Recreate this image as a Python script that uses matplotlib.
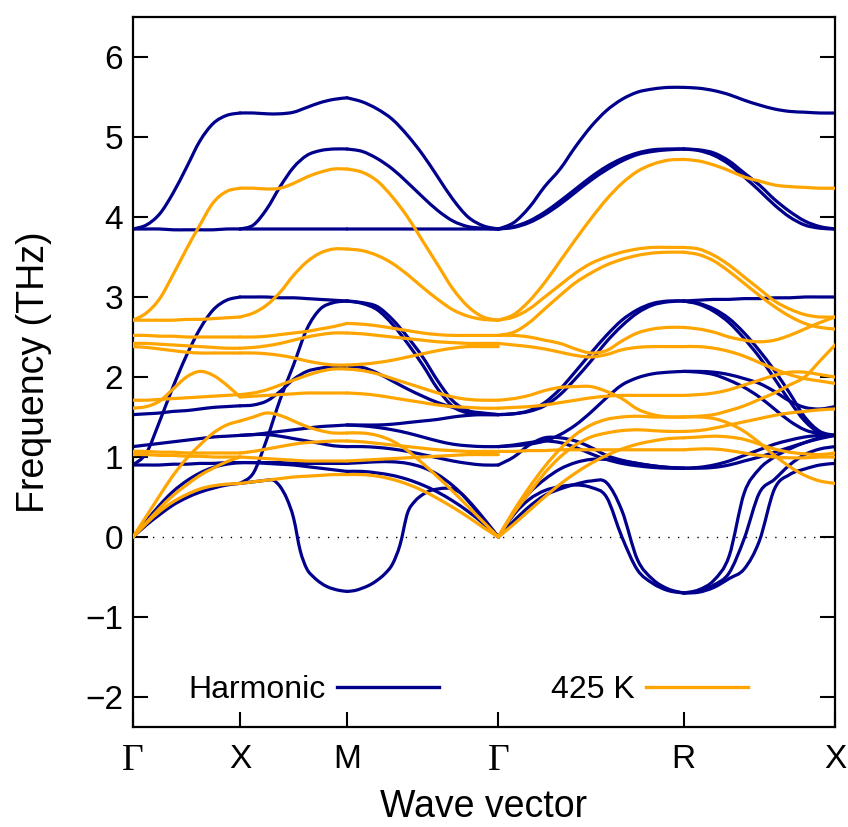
import numpy as np
import matplotlib
matplotlib.use("Agg")
import matplotlib.pyplot as plt
from matplotlib.lines import Line2D
from matplotlib.path import Path
from matplotlib.patches import PathPatch

# ---------------- data ----------------
# k-path nodes (path length) and labels; each band below is sampled at
# evenly spaced k-points across its segment
KNODES = [0.0, 1.0, 2.0, 3.414, 5.146, 6.560]
KLABELS = ["Γ", "X", "M", "Γ", "R", "X"]

HARM_GX = [
    [0, 0.15, 0.28, 0.40, 0.49, 0.56, 0.61, 0.65, 0.67],
    [0, 0.2, 0.4, 0.57, 0.7, 0.8, 0.87, 0.91, 0.93],
    [0.9, 0.9, 0.9, 0.91, 0.91, 0.92, 0.92, 0.93, 0.93],
    [0.9, 1.05, 1.45, 1.88, 2.27, 2.6, 2.84, 2.96, 3.0],
    [1.13, 1.15, 1.17, 1.19, 1.21, 1.23, 1.25, 1.26, 1.27],
    [1.53, 1.54, 1.55, 1.57, 1.58, 1.6, 1.62, 1.63, 1.64],
    [3.85, 3.85, 3.85, 3.84, 3.84, 3.84, 3.84, 3.85, 3.85],
    [3.85, 3.9, 4.04, 4.3, 4.62, 4.95, 5.17, 5.27, 5.3],
]
HARM_XM = [
    [0.67, 0.68, 0.69, 0.70, 0.71, 0.71, 0.63, 0.48, 0.24, -0.17, -0.40,
     -0.50, -0.57, -0.62, -0.65, -0.67, -0.68],
    [0.67, 0.8, 1.22, 1.72, 2.15, 2.6, 2.85, 2.93, 2.95],
    [3.0, 3.0, 3.0, 2.99, 2.99, 2.98, 2.97, 2.96, 2.95],
    [0.93, 0.93, 0.92, 0.91, 0.9, 0.88, 0.86, 0.84, 0.82],
    [0.93, 0.93, 0.93, 0.93, 0.92, 0.92, 0.92, 0.92, 0.92],
    [1.27, 1.28, 1.28, 1.26, 1.23, 1.2, 1.17, 1.14, 1.13],
    [1.27, 1.28, 1.3, 1.32, 1.34, 1.36, 1.38, 1.39, 1.4],
    [1.64, 1.65, 1.7, 1.82, 1.97, 2.07, 2.11, 2.13, 2.13],
    [3.85, 3.85, 3.85, 3.85, 3.85, 3.85, 3.85, 3.85, 3.85],
    [3.85, 3.9, 4.1, 4.38, 4.62, 4.77, 4.83, 4.85, 4.85],
    [5.3, 5.3, 5.29, 5.29, 5.31, 5.37, 5.43, 5.47, 5.49],
]
HARM_MG = [
    [-0.68, -0.67, -0.64, -0.6, -0.54, -0.46, -0.34, -0.1, 0.3, 0.45, 0.53,
     0.58, 0.6, 0.61, 0.6, 0.55, 0.45, 0.34, 0.22, 0.11, 0],
    [2.95, 2.93, 2.88, 2.72, 2.5, 2.25, 1.95, 1.7, 1.58, 1.55, 1.53],
    [2.95, 2.92, 2.84, 2.66, 2.42, 2.15, 1.85, 1.63, 1.55, 1.53, 1.53],
    [2.13, 2.12, 2.05, 1.95, 1.85, 1.76, 1.68, 1.62, 1.57, 1.54, 1.53],
    [1.4, 1.4, 1.4, 1.41, 1.43, 1.45, 1.47, 1.5, 1.52, 1.53, 1.53],
    [1.4, 1.39, 1.37, 1.34, 1.3, 1.25, 1.2, 1.16, 1.14, 1.13, 1.13],
    [1.13, 1.13, 1.12, 1.1, 1.07, 1.03, 0.99, 0.95, 0.92, 0.9, 0.9],
    [0.82, 0.82, 0.8, 0.77, 0.72, 0.65, 0.56, 0.45, 0.32, 0.17, 0],
    [0.92, 0.93, 0.94, 0.94, 0.92, 0.87, 0.78, 0.64, 0.46, 0.24, 0],
    [3.85, 3.85, 3.85, 3.85, 3.85, 3.85, 3.85, 3.85, 3.85, 3.85, 3.85],
    [4.85, 4.82, 4.73, 4.6, 4.43, 4.25, 4.08, 3.95, 3.88, 3.86, 3.85],
    [5.49, 5.44, 5.35, 5.22, 5.02, 4.78, 4.5, 4.22, 4.0, 3.89, 3.85],
]
HARM_GR = [
    [0, 0.28, 0.47, 0.58, 0.63, 0.65, 0.62, 0.5, 0.0, -0.41, -0.58, -0.67, -0.7],
    [0, 0.2, 0.38, 0.52, 0.6, 0.66, 0.7, 0.68, 0.33, -0.28, -0.53, -0.65, -0.7],
    [0, 0.3, 0.55, 0.72, 0.85, 0.93, 0.97, 0.97, 0.95, 0.92, 0.89, 0.87, 0.86],
    [0.9, 1.0, 1.15, 1.24, 1.24, 1.2, 1.12, 1.02, 0.96, 0.92, 0.89, 0.87, 0.86],
    [1.13, 1.14, 1.16, 1.2, 1.28, 1.4, 1.56, 1.74, 1.9, 1.99, 2.04, 2.06, 2.07],
    [1.13, 1.15, 1.18, 1.2, 1.18, 1.12, 1.04, 0.97, 0.92, 0.89, 0.87, 0.86, 0.86],
    [1.53, 1.54, 1.58, 1.68, 1.85, 2.07, 2.3, 2.52, 2.71, 2.84, 2.92, 2.95, 2.95],
    [1.53, 1.54, 1.57, 1.64, 1.78, 1.98, 2.2, 2.44, 2.64, 2.8, 2.9, 2.94, 2.95],
    [3.85, 3.88, 3.95, 4.06, 4.2, 4.35, 4.5, 4.63, 4.73, 4.8, 4.84, 4.85, 4.85],
    [3.85, 3.87, 3.93, 4.03, 4.16, 4.31, 4.46, 4.59, 4.7, 4.78, 4.82, 4.84, 4.85],
    [3.85, 3.93, 4.12, 4.38, 4.6, 4.88, 5.13, 5.33, 5.47, 5.56, 5.6, 5.62, 5.62],
]
HARM_RX = [
    [-0.7, -0.66, -0.54, -0.24, 0.55, 0.85, 1.0, 1.1, 1.18, 1.24, 1.27],
    [-0.7, -0.68, -0.6, -0.45, -0.02, 0.55, 0.72, 0.9, 1.03, 1.1, 1.13],
    [-0.7, -0.69, -0.63, -0.52, -0.4, -0.05, 0.6, 0.78, 0.85, 0.9, 0.92],
    [0.86, 0.86, 0.87, 0.9, 0.95, 1.0, 1.06, 1.12, 1.18, 1.23, 1.27],
    [0.86, 0.87, 0.9, 0.95, 1.02, 1.09, 1.16, 1.21, 1.25, 1.27, 1.27],
    [2.07, 2.06, 2.03, 1.96, 1.87, 1.75, 1.6, 1.45, 1.34, 1.29, 1.27],
    [2.07, 2.07, 2.06, 2.03, 1.98, 1.92, 1.82, 1.7, 1.62, 1.6, 1.63],
    [2.95, 2.96, 2.97, 2.97, 2.98, 2.98, 2.99, 2.99, 3.0, 3.0, 3.0],
    [2.95, 2.92, 2.85, 2.73, 2.55, 2.33, 2.08, 1.8, 1.5, 1.32, 1.27],
    [2.95, 2.91, 2.82, 2.68, 2.48, 2.25, 1.98, 1.7, 1.45, 1.3, 1.27],
    [4.85, 4.84, 4.8, 4.7, 4.55, 4.4, 4.22, 4.07, 3.95, 3.88, 3.85],
    [4.85, 4.83, 4.77, 4.66, 4.5, 4.33, 4.15, 4.0, 3.9, 3.86, 3.85],
    [5.62, 5.61, 5.58, 5.53, 5.46, 5.4, 5.35, 5.32, 5.31, 5.3, 5.3],
]

ANH_GX = [
    [2.71, 2.8, 2.98, 3.28, 3.6, 3.9, 4.18, 4.32, 4.36],
    [2.71, 2.71, 2.71, 2.71, 2.72, 2.72, 2.73, 2.74, 2.75],
    [2.52, 2.52, 2.51, 2.51, 2.5, 2.5, 2.5, 2.5, 2.5],
    [2.42, 2.42, 2.41, 2.4, 2.39, 2.38, 2.37, 2.36, 2.36],
    [2.38, 2.37, 2.35, 2.33, 2.31, 2.3, 2.3, 2.3, 2.3],
    [1.71, 1.71, 1.72, 1.73, 1.74, 1.75, 1.76, 1.77, 1.78],
    [1.61, 1.63, 1.7, 1.85, 2.0, 2.07, 2.02, 1.9, 1.75],
    [1.07, 1.07, 1.06, 1.06, 1.05, 1.05, 1.05, 1.05, 1.05],
    [1.03, 1.03, 1.02, 1.02, 1.01, 1.01, 1.0, 1.0, 1.0],
    [0, 0.17, 0.32, 0.44, 0.53, 0.6, 0.64, 0.66, 0.67],
    [0, 0.18, 0.36, 0.52, 0.65, 0.77, 0.86, 0.94, 1.0],
    [0, 0.26, 0.52, 0.77, 0.98, 1.15, 1.3, 1.4, 1.45],
]
ANH_XM = [
    [4.36, 4.36, 4.35, 4.36, 4.42, 4.5, 4.56, 4.6, 4.6],
    [2.75, 2.8, 2.9, 3.06, 3.27, 3.44, 3.55, 3.6, 3.6],
    [2.5, 2.5, 2.51, 2.53, 2.55, 2.57, 2.6, 2.63, 2.67],
    [2.36, 2.37, 2.39, 2.42, 2.46, 2.5, 2.53, 2.55, 2.55],
    [2.3, 2.3, 2.29, 2.27, 2.24, 2.2, 2.17, 2.15, 2.15],
    [1.78, 1.8, 1.84, 1.9, 1.96, 2.02, 2.07, 2.1, 2.1],
    [1.75, 1.76, 1.77, 1.78, 1.79, 1.8, 1.8, 1.8, 1.8],
    [1.05, 1.07, 1.1, 1.13, 1.16, 1.18, 1.19, 1.2, 1.2],
    [1.0, 0.99, 0.98, 0.97, 0.96, 0.95, 0.95, 0.95, 0.95],
    [0.67, 0.69, 0.71, 0.73, 0.75, 0.76, 0.77, 0.78, 0.78],
    [1.45, 1.5, 1.55, 1.52, 1.45, 1.38, 1.33, 1.3, 1.3],
]
ANH_MG = [
    [4.6, 4.56, 4.45, 4.25, 4.0, 3.7, 3.4, 3.1, 2.88, 2.75, 2.71],
    [3.6, 3.58, 3.52, 3.42, 3.28, 3.12, 2.97, 2.84, 2.76, 2.72, 2.71],
    [2.67, 2.66, 2.64, 2.61, 2.58, 2.55, 2.53, 2.52, 2.52, 2.52, 2.52],
    [2.55, 2.54, 2.52, 2.5, 2.48, 2.46, 2.44, 2.43, 2.42, 2.42, 2.42],
    [2.15, 2.16, 2.18, 2.21, 2.25, 2.29, 2.33, 2.36, 2.38, 2.38, 2.38],
    [2.1, 2.08, 2.04, 1.98, 1.92, 1.86, 1.8, 1.75, 1.72, 1.71, 1.71],
    [1.8, 1.79, 1.77, 1.74, 1.71, 1.68, 1.65, 1.63, 1.62, 1.61, 1.61],
    [1.2, 1.19, 1.17, 1.15, 1.13, 1.11, 1.09, 1.08, 1.07, 1.07, 1.07],
    [0.95, 0.96, 0.97, 0.98, 0.99, 1.0, 1.01, 1.02, 1.03, 1.03, 1.03],
    [0.78, 0.78, 0.76, 0.72, 0.66, 0.58, 0.48, 0.37, 0.25, 0.12, 0],
    [1.3, 1.3, 1.27, 1.2, 1.08, 0.92, 0.75, 0.57, 0.38, 0.19, 0],
]
ANH_GR = [
    [2.71, 2.78, 2.95, 3.18, 3.45, 3.72, 3.98, 4.22, 4.42, 4.57, 4.66, 4.71, 4.72],
    [2.71, 2.75, 2.85, 3.0, 3.15, 3.3, 3.42, 3.5, 3.56, 3.6, 3.62, 3.62, 3.62],
    [2.52, 2.56, 2.68, 2.85, 3.02, 3.18, 3.3, 3.4, 3.47, 3.52, 3.55, 3.56, 3.56],
    [2.52, 2.52, 2.5, 2.46, 2.42, 2.35, 2.3, 2.33, 2.45, 2.55, 2.6, 2.62, 2.62],
    [2.42, 2.4, 2.38, 2.35, 2.31, 2.27, 2.25, 2.28, 2.34, 2.37, 2.38, 2.38, 2.38],
    [1.71, 1.73, 1.77, 1.83, 1.87, 1.88, 1.88, 1.82, 1.73, 1.6, 1.53, 1.5, 1.5],
    [1.61, 1.62, 1.63, 1.65, 1.68, 1.71, 1.74, 1.76, 1.77, 1.77, 1.77, 1.77, 1.77],
    [1.07, 1.07, 1.08, 1.08, 1.09, 1.09, 1.09, 1.09, 1.09, 1.09, 1.09, 1.09, 1.09],
    [0, 0.16, 0.33, 0.5, 0.66, 0.8, 0.92, 1.02, 1.1, 1.16, 1.2, 1.23, 1.24],
    [0, 0.3, 0.55, 0.8, 1.0, 1.15, 1.25, 1.3, 1.33, 1.34, 1.33, 1.32, 1.32],
    [0, 0.33, 0.62, 0.88, 1.1, 1.28, 1.4, 1.47, 1.5, 1.51, 1.5, 1.5, 1.5],
]
ANH_RX = [
    [4.72, 4.7, 4.65, 4.58, 4.5, 4.45, 4.4, 4.38, 4.37, 4.36, 4.36],
    [3.62, 3.6, 3.52, 3.4, 3.25, 3.1, 2.95, 2.85, 2.78, 2.75, 2.75],
    [3.56, 3.53, 3.45, 3.32, 3.17, 3.02, 2.88, 2.76, 2.67, 2.62, 2.6],
    [2.62, 2.6, 2.56, 2.5, 2.46, 2.44, 2.46, 2.52, 2.6, 2.68, 2.75],
    [2.38, 2.38, 2.36, 2.32, 2.26, 2.18, 2.1, 2.03, 1.98, 1.95, 1.92],
    [1.77, 1.78, 1.8, 1.84, 1.9, 1.96, 2.02, 2.06, 2.06, 2.03, 2.0],
    [1.5, 1.51, 1.53, 1.58, 1.64, 1.72, 1.8, 1.9, 2.0, 2.2, 2.4],
    [1.32, 1.33, 1.36, 1.4, 1.44, 1.48, 1.52, 1.55, 1.57, 1.59, 1.6],
    [1.24, 1.25, 1.26, 1.25, 1.22, 1.16, 1.1, 1.06, 1.04, 1.03, 1.05],
    [1.09, 1.1, 1.1, 1.08, 1.05, 1.02, 1.0, 0.99, 0.99, 1.0, 1.0],
    [1.5, 1.5, 1.48, 1.42, 1.32, 1.18, 1.02, 0.88, 0.77, 0.7, 0.67],
]

HARM = [HARM_GX, HARM_XM, HARM_MG, HARM_GR, HARM_RX]
ANH = [ANH_GX, ANH_XM, ANH_MG, ANH_GR, ANH_RX]
SERIES = ["Harmonic", "425 K"]
COLORS = ["#00008c", "#ffa500"]
YTICKS = [-2, -1, 0, 1, 2, 3, 4, 5, 6]

# ---------------- drawing ----------------
SANS = ["Liberation Sans", "DejaVu Sans"]
SERIF = ["Liberation Serif", "DejaVu Serif"]
plt.rcParams["font.family"] = SANS


def smooth_path(xs, ys):
    """Smooth Bezier path passing through the given points."""
    P = np.column_stack([xs, ys]).astype(float)
    n = len(P)
    verts = [P[0]]
    codes = [Path.MOVETO]
    for i in range(n - 1):
        p0 = P[i - 1] if i > 0 else P[i]
        p1, p2 = P[i], P[i + 1]
        p3 = P[i + 2] if i + 2 < n else P[i + 1]
        verts += [p1 + (p2 - p0) / 6.0, p2 - (p3 - p1) / 6.0, p2]
        codes += [Path.CURVE4] * 3
    return Path(verts, codes)


fig = plt.figure(figsize=(8.48, 8.27), dpi=100)
ax = fig.add_axes([133 / 848, 1 - 727 / 827, 702 / 848, 710 / 827])

LW = 2.3
for bands, col, z in zip([HARM, ANH], COLORS, [2, 3]):
    for i, seg in enumerate(bands):
        for b in seg:
            ks = np.linspace(KNODES[i], KNODES[i + 1], len(b))
            ax.add_patch(PathPatch(smooth_path(ks, b), fill=False,
                                   edgecolor=col, lw=LW, zorder=z,
                                   joinstyle="round", capstyle="round"))

ax.axhline(0, color="black", lw=1.0, ls=(0, (1, 6)), zorder=1)

ax.set_xlim(KNODES[0], KNODES[-1])
ax.set_ylim(-2.375, 6.5)

ax.set_yticks(YTICKS)
ax.tick_params(axis="y", direction="in", length=11, width=1.5, right=True,
               labelsize=24, pad=7)
ax.set_xticks(KNODES)
ax.set_xticklabels(KLABELS)
ax.tick_params(axis="x", direction="in", length=11, width=1.5, top=False,
               labelsize=24, pad=12)
for lab in ax.get_xticklabels():
    if lab.get_text() == "Γ":
        lab.set_family(SERIF)
        lab.set_fontsize(27)
for sp in ax.spines.values():
    sp.set_linewidth(1.6)

ax.set_ylabel("Frequency (THz)", fontsize=27, labelpad=24)
ax.set_xlabel("Wave vector", fontsize=27, labelpad=8)

handles = [Line2D([], [], color=c, lw=2.4) for c in COLORS]
ax.legend(handles, SERIES, ncol=2, markerfirst=False, frameon=False,
          loc="center", bbox_to_anchor=(0.478, 0.052), fontsize=23,
          handlelength=3.2, handletextpad=0.35, columnspacing=3.5)

fig.savefig("out.png", dpi=100)
